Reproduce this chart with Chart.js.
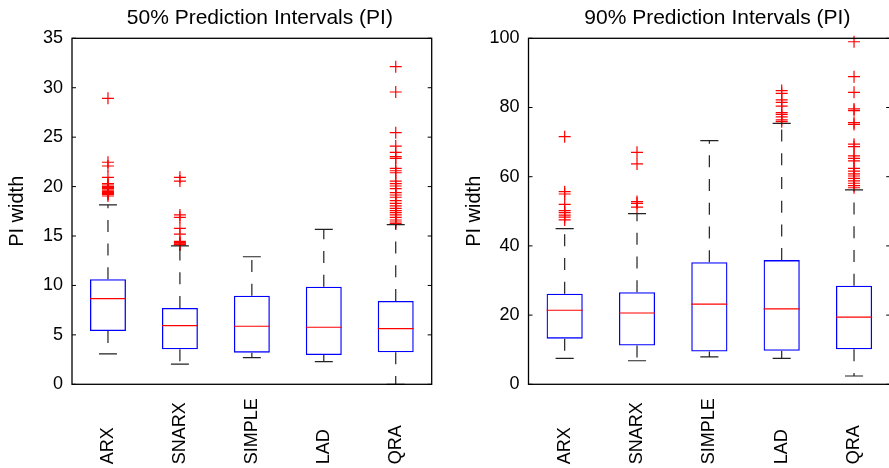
<!DOCTYPE html>
<html>
<head>
<meta charset="utf-8">
<script src="https://cdn.jsdelivr.net/npm/chart.js@4.4.1/dist/chart.umd.min.js"></script>
<style>
  html, body { margin: 0; padding: 0; background: #fff; overflow: hidden; }
  body { width: 889px; height: 468px; position: relative; }
  canvas { position: absolute; top: 0; }
  #chart50 { left: 0; }
  #chart90 { left: 450px; }
</style>
</head>
<body>
<canvas id="chart50" width="450" height="468"></canvas>
<canvas id="chart90" width="450" height="468"></canvas>
<script>
/*** data ***/
const methods = ['ARX', 'SNARX', 'SIMPLE', 'LAD', 'QRA'];

// 50% PI widths
const pi50Low = [3.07, 2.05, 2.69, 2.29, 0];
const pi50Q1 = [5.39, 3.54, 3.2, 2.96, 3.23];
const pi50Median = [8.66, 5.93, 5.87, 5.77, 5.63];
const pi50Q3 = [10.62, 7.72, 8.96, 9.87, 8.43];
const pi50High = [18.14, 14.0, 12.9, 15.68, 16.15];
const pi50Outliers = [
  [28.93, 22.46, 22.08, 20.94, 20.3, 20.16, 20.0, 19.93, 19.8, 19.65, 19.5, 19.4, 19.28, 19.2, 19.05],
  [20.94, 20.56, 17.13, 16.89, 15.78, 15.2, 14.45, 14.33, 14.22, 14.16, 14.1],
  [],
  [],
  [32.13, 29.57, 25.45, 24.1, 23.47, 23.03, 22.86, 21.85, 21.6, 21.4, 20.56, 20.3, 20.06,
    19.79, 19.38, 19.15, 18.92, 18.58, 18.31, 18.04, 17.8, 17.56, 17.36, 17.13, 16.89,
    16.62, 16.42, 16.25],
];
const pi50Ticks = { min: 0, max: 35, step: 5 };

// 90% PI widths
const pi90Low = [7.5, 6.8, 7.9, 7.5, 2.4];
const pi90Q1 = [13.2, 11.2, 9.5, 9.7, 10.1];
const pi90Median = [21.4, 20.6, 23.2, 21.8, 19.4];
const pi90Q3 = [26.2, 26.6, 35.3, 35.9, 28.5];
const pi90High = [45.0, 49.3, 70.4, 75.4, 56.2];
const pi90Outliers = [
  [71.56, 55.67, 55.0, 52.0, 50.2, 49.6, 48.9, 48.3, 47.5],
  [67.05, 63.7, 52.8, 52.3, 51.2],
  [],
  [84.9, 84.1, 82.2, 81.5, 80.4, 78.5, 78.0, 77.3, 76.4, 75.9],
  [99.0, 88.9, 84.4, 79.6, 79.1, 75.6, 75.1, 69.4, 68.7, 66.0, 65.3, 64.6, 62.4, 61.6,
    60.8, 60.2, 59.5, 58.8, 58.1, 57.4, 56.8],
];
const pi90Ticks = { min: 0, max: 100, step: 20 };

const FONT = '"Liberation Sans", Arial, Helvetica, sans-serif';

/*** plugin: whiskers, medians, frame, titles, rotated labels ***/
const boxExtras = {
  id: 'boxExtras',
  afterDatasetsDraw(chart, args, opts) {
    const ctx = chart.ctx;
    const xs = chart.scales.x;
    const ys = chart.scales.y;
    const boxW = (xs.width / methods.length) * 0.5;
    ctx.save();
    ctx.lineWidth = 1.2;
    methods.forEach((m, i) => {
      const cx = xs.getPixelForValue(i);
      // dashed whiskers, drawn from the box outwards
      ctx.strokeStyle = '#222';
      ctx.setLineDash([12, 11.7]);
      ctx.beginPath();
      ctx.moveTo(cx, ys.getPixelForValue(opts.q3[i]));
      ctx.lineTo(cx, ys.getPixelForValue(opts.high[i]));
      ctx.moveTo(cx, ys.getPixelForValue(opts.q1[i]));
      ctx.lineTo(cx, ys.getPixelForValue(opts.low[i]));
      ctx.stroke();
      ctx.setLineDash([]);
      // caps
      ctx.beginPath();
      [opts.high[i], opts.low[i]].forEach((v) => {
        const py = ys.getPixelForValue(v);
        ctx.moveTo(cx - boxW / 4, py);
        ctx.lineTo(cx + boxW / 4, py);
      });
      ctx.stroke();
      // median
      ctx.strokeStyle = '#ff0000';
      ctx.beginPath();
      const my = ys.getPixelForValue(opts.median[i]);
      ctx.moveTo(cx - boxW / 2, my);
      ctx.lineTo(cx + boxW / 2, my);
      ctx.stroke();
    });
    ctx.restore();
  },
  afterDraw(chart, args, opts) {
    const ctx = chart.ctx;
    const area = chart.chartArea;
    const xs = chart.scales.x;
    const ys = chart.scales.y;
    ctx.save();
    // frame with inward ticks on both sides
    ctx.strokeStyle = '#000';
    ctx.lineWidth = 1.3;
    ctx.strokeRect(area.left, area.top, area.right - area.left, area.bottom - area.top);
    ctx.lineWidth = 1;
    ctx.beginPath();
    ys.ticks.forEach((t) => {
      const py = ys.getPixelForValue(t.value);
      ctx.moveTo(area.left, py);
      ctx.lineTo(area.left + 4, py);
      ctx.moveTo(area.right, py);
      ctx.lineTo(area.right - 4, py);
    });
    ctx.stroke();
    // title
    ctx.fillStyle = '#000';
    ctx.font = '21px ' + FONT;
    ctx.textAlign = 'center';
    ctx.textBaseline = 'alphabetic';
    ctx.fillText(opts.title, (area.left + area.right) / 2 + 8, 24);
    // category labels, rotated and starting at the bottom
    ctx.font = '18px ' + FONT;
    ctx.textAlign = 'left';
    ctx.textBaseline = 'middle';
    methods.forEach((m, i) => {
      ctx.save();
      ctx.translate(xs.getPixelForValue(i), area.bottom + 80);
      ctx.rotate(-Math.PI / 2);
      ctx.fillText(m, 0, 0);
      ctx.restore();
    });
    ctx.restore();
  },
};

/*** chart builder ***/
class BoxPlotChart {
  constructor(canvasId, layout) {
    this.canvasId = canvasId;
    this.layout = layout;
  }

  generate(title, low, q1, median, q3, high, outliers, ticks) {
    const layout = this.layout;
    const outlierPoints = outliers.flatMap((arr, i) =>
      arr.map((v) => ({ x: methods[i], y: v }))
    );

    return new Chart(document.getElementById(this.canvasId), {
      type: 'bar',
      data: {
        labels: methods,
        datasets: [
          {
            label: 'box',
            data: methods.map((m, i) => [q1[i], q3[i]]),
            backgroundColor: 'rgba(0,0,0,0)',
            borderColor: '#0000ff',
            borderWidth: 1.3,
            borderSkipped: false,
            barPercentage: 0.5,
            categoryPercentage: 1,
            order: 2,
          },
          {
            type: 'line',
            label: 'outliers',
            data: outlierPoints,
            showLine: false,
            pointStyle: 'cross',
            pointRadius: 6,
            pointHoverRadius: 6,
            pointBorderColor: '#ff0000',
            pointBorderWidth: 1.2,
            clip: false,
            order: 1,
          },
        ],
      },
      options: {
        responsive: false,
        animation: false,
        events: [],
        layout: {
          padding: { top: layout.top, right: layout.right, left: 0, bottom: 0 },
        },
        plugins: {
          legend: { display: false },
          tooltip: { enabled: false },
          title: { display: false },
          boxExtras: { title, low, q1, median, q3, high },
        },
        scales: {
          x: {
            grid: { display: false, drawTicks: false },
            border: { display: false },
            ticks: { display: false },
            afterFit: (s) => {
              s.height = layout.bottom;
            },
          },
          y: {
            min: ticks.min,
            max: ticks.max,
            grid: { display: false, drawTicks: false },
            border: { display: false },
            ticks: {
              stepSize: ticks.step,
              padding: 9,
              color: '#000',
              font: { family: FONT, size: 18 },
            },
            title: {
              display: true,
              text: 'PI width',
              color: '#000',
              font: { family: FONT, size: 20 },
              padding: { top: layout.titleGap, bottom: 0 },
            },
            afterFit: (s) => {
              s.width = layout.axisWidth;
            },
          },
        },
      },
      plugins: [boxExtras],
    });
  }
}

new BoxPlotChart('chart50', { top: 38.3, right: 18.3, bottom: 83.7, axisWidth: 72, titleGap: 5 })
  .generate('50% Prediction Intervals (PI)', pi50Low, pi50Q1, pi50Median, pi50Q3, pi50High, pi50Outliers, pi50Ticks);

new BoxPlotChart('chart90', { top: 38.3, right: 9.8, bottom: 83.7, axisWidth: 78.5, titleGap: 12 })
  .generate('90% Prediction Intervals (PI)', pi90Low, pi90Q1, pi90Median, pi90Q3, pi90High, pi90Outliers, pi90Ticks);
</script>
</body>
</html>
